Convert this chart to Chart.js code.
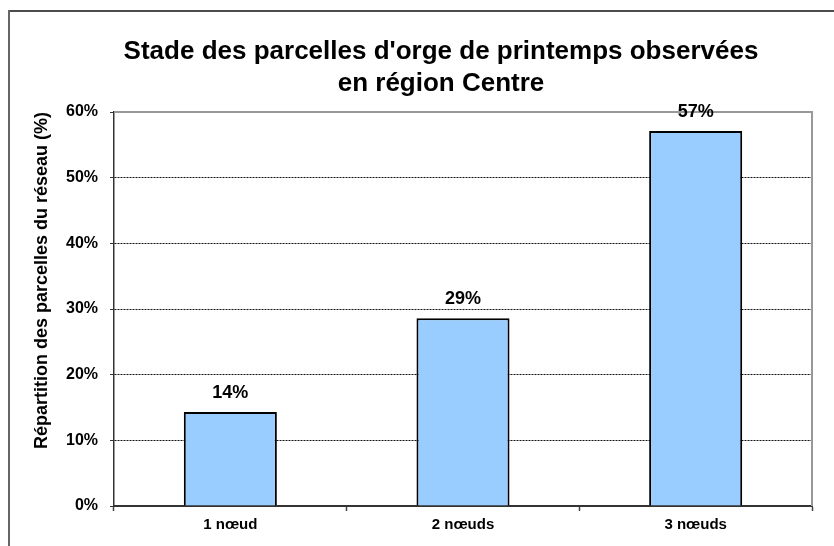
<!DOCTYPE html>
<html>
<head>
<meta charset="utf-8">
<script src="https://cdn.jsdelivr.net/npm/chart.js@4"></script>
<style>
  html, body { margin: 0; padding: 0; background: #fff; }
  #box { width: 834px; height: 546px; }
</style>
</head>
<body>
<div id="box"><canvas id="chart"></canvas></div>
<script>
const categories = ['1 nœud', '2 nœuds', '3 nœuds'];
const shares = [14.3, 28.6, 57.1];
const chartTitle = ["Stade des parcelles d'orge de printemps observées", 'en région Centre'];
const yAxisTitle = 'Répartition des parcelles du réseau (%)';
const yMax = 60;
const yStep = 10;

const FONT = "'Liberation Sans', Arial, sans-serif";

// outer frame, plot border and the chart title
const framePlugin = {
    id: 'frame',
    beforeDraw(chart) {
        const ctx = chart.ctx;
        ctx.save();
        ctx.strokeStyle = '#111';
        ctx.lineWidth = 1.5;
        ctx.beginPath();
        ctx.moveTo(9, 11);
        ctx.lineTo(chart.width, 11);
        ctx.stroke();
        ctx.strokeStyle = '#666';
        ctx.lineWidth = 2;
        ctx.beginPath();
        ctx.moveTo(9, 10);
        ctx.lineTo(9, chart.height);
        ctx.stroke();

        ctx.fillStyle = '#000';
        ctx.font = 'bold 26px ' + FONT;
        ctx.textAlign = 'center';
        ctx.textBaseline = 'alphabetic';
        ctx.fillText(chartTitle[0], 441, 59);
        ctx.fillText(chartTitle[1], 441, 91);
        ctx.restore();
    },
    beforeDatasetsDraw(chart) {
        const {ctx, chartArea} = chart;
        ctx.save();
        ctx.strokeStyle = '#999';
        ctx.lineWidth = 2;
        ctx.beginPath();
        ctx.moveTo(chartArea.left, chartArea.top);
        ctx.lineTo(chartArea.right, chartArea.top);
        ctx.lineTo(chartArea.right, chartArea.bottom);
        ctx.stroke();
        ctx.restore();
    }
};

// percentage labels above the bars
const valueLabels = {
    id: 'valueLabels',
    afterDatasetsDraw(chart) {
        const ctx = chart.ctx;
        const meta = chart.getDatasetMeta(0);
        ctx.save();
        ctx.fillStyle = '#000';
        ctx.font = 'bold 18px ' + FONT;
        ctx.textAlign = 'center';
        ctx.textBaseline = 'middle';
        meta.data.forEach((bar, i) => {
            ctx.fillText(Math.round(shares[i]) + '%', bar.x, bar.y - 19);
        });
        ctx.restore();
    }
};

const ctx = document.getElementById('chart').getContext('2d');
const chart = new Chart(ctx, {
    type: 'bar',
    data: {
        labels: categories,
        datasets: [{
            data: shares,
            backgroundColor: '#99CCFF',
            borderColor: '#000',
            borderWidth: 2,
            barPercentage: 0.4,
            categoryPercentage: 1
        }]
    },
    options: {
        responsive: true,
        maintainAspectRatio: false,
        animation: false,
        layout: {
            padding: { top: 112, right: 22, bottom: 0, left: 0 }
        },
        plugins: {
            legend: { display: false },
            tooltip: { enabled: false }
        },
        scales: {
            x: {
                afterFit(scale) { scale.height = 40; },
                grid: {
                    display: true,
                    drawOnChartArea: false,
                    drawTicks: true,
                    tickLength: 5,
                    tickColor: '#444',
                    tickWidth: 1.5
                },
                border: { color: '#333', width: 2 },
                ticks: {
                    color: '#000',
                    font: { family: FONT, size: 15, weight: 'bold' },
                    padding: 5,
                    maxRotation: 0
                }
            },
            y: {
                min: 0,
                max: yMax,
                afterFit(scale) { scale.width = 114; },
                grid: {
                    color: '#111',
                    lineWidth: 1,
                    tickLength: 4,
                    tickColor: '#333',
                    tickBorderDash: []
                },
                border: { color: '#333', width: 1.5, dash: [2, 1] },
                ticks: {
                    stepSize: yStep,
                    color: '#000',
                    padding: 12,
                    font: { family: FONT, size: 16, weight: 'bold' },
                    callback: (v) => v + '%'
                },
                title: {
                    display: true,
                    text: yAxisTitle,
                    align: 'end',
                    color: '#000',
                    font: { family: FONT, size: 18, weight: 'bold' },
                    padding: { top: 31, bottom: 0 }
                }
            }
        }
    },
    plugins: [framePlugin, valueLabels]
});
</script>
</body>
</html>
